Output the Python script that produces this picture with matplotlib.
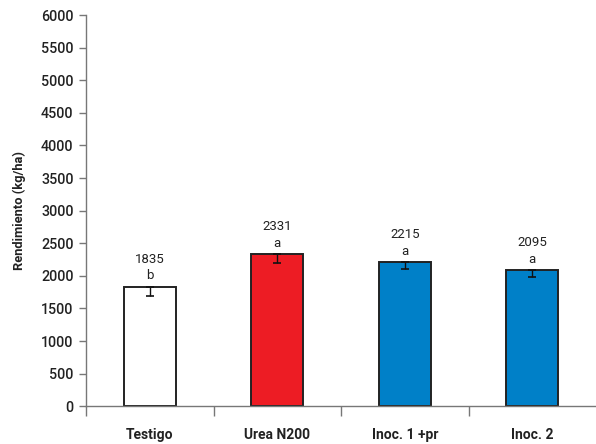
import matplotlib
matplotlib.use("Agg")
import matplotlib.pyplot as plt
import numpy as np

# Rendimiento por tratamiento
categories = ["Testigo", "Urea N200", "Inoc. 1 +pr", "Inoc. 2"]
yields = [1835, 2331, 2215, 2095]
errors = [150, 140, 110, 105]
letters = ["b", "a", "a", "a"]
colors = ["#FFFFFF", "#ED1C24", "#0080C8", "#0080C8"]
y_ticks = list(range(0, 6001, 500))

plt.rcParams["font.family"] = ["Roboto", "DejaVu Sans"]

fig = plt.figure(figsize=(5.96, 4.44), dpi=100)
ax = fig.add_axes([0.1443, 0.085, 0.8557, 0.881])

x = np.arange(len(categories))
ax.bar(x, yields, width=0.41, color=colors, edgecolor="#222222", linewidth=1.4, zorder=2)
# only the lower half of the error bar is shown
ax.errorbar(x, yields, yerr=[errors, [0] * len(errors)], fmt="none",
            ecolor="#111111", elinewidth=1.0, capsize=3, capthick=1.2, zorder=3)

for xi, val, let in zip(x, yields, letters):
    ax.annotate(f"{val}", (xi, val), xytext=(0, 15), textcoords="offset points",
                ha="center", va="bottom", fontsize=9.5, color="#222222")
    ax.annotate(let, (xi, val), xytext=(0, 3), textcoords="offset points",
                ha="center", va="bottom", fontsize=9.5, color="#222222")

ax.set_xlim(-0.5, 3.5)
ax.set_ylim(0, 6000)
ax.set_yticks(y_ticks)
ax.set_yticklabels([str(t) for t in y_ticks], fontsize=10.3, fontweight="medium", color="#222222")
ax.set_xticks(x)
ax.set_xticklabels(categories, fontsize=10, fontweight="bold", color="#222222")
ax.tick_params(axis="x", which="major", length=0, pad=16)
ax.set_xticks([-0.5, 0.5, 1.5, 2.5], minor=True)
ax.tick_params(axis="x", which="minor", length=7, direction="out", color="#777777", width=1)
ax.tick_params(axis="y", length=5, color="#777777", width=1, pad=4)

ax.set_ylabel("Rendimiento (kg/ha)", fontsize=9.3, fontweight="bold", color="#222222", labelpad=11)

for s in ["top", "right"]:
    ax.spines[s].set_visible(False)
for s in ["left", "bottom"]:
    ax.spines[s].set_color("#777777")
    ax.spines[s].set_linewidth(1)

fig.savefig("out.png", dpi=100)
